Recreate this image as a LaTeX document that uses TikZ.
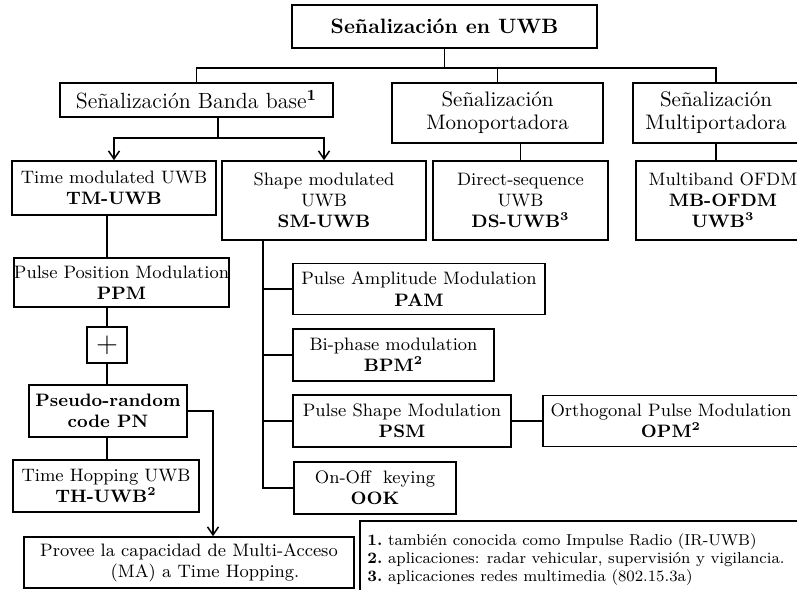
\documentclass[tikz,border=0pt]{standalone}
\usetikzlibrary{arrows.meta}
\newcommand{\nota}[1]{\textsuperscript{\textbf{#1}}}
\begin{document}
\begin{tikzpicture}[x=0.5pt,y=-0.5pt,
                    box/.style={draw,line width=0.8pt,inner sep=0pt,align=center,
                                font=\fontsize{9}{10.6}\selectfont},
                    topbox/.style={box,font=\fontsize{10.5}{11.5}\selectfont},
                    link/.style={line width=0.75pt},
                    arr/.style={line width=0.75pt,-{Straight Barb[length=4pt,width=5.5pt]}}]
                    \useasboundingbox (0,0) rectangle (797,589);
                    \clip (0,0) rectangle (797,589);
                    \node[box,font=\fontsize{10.4}{12}\selectfont\bfseries,
                          minimum width=152.5pt,minimum height=21.5pt] (senal) at (444.5,26.5) {Señalización en UWB};
                    \node[topbox,font=\fontsize{11}{12}\selectfont,
                          minimum width=136.5pt,minimum height=17pt] (banda) at (196.5,100) {Señalización Banda base\nota{1}};
                    \node[topbox,minimum width=105.5pt,minimum height=30pt] (mono) at (497.5,113) {Señalización\\Monoportadora};
                    \node[topbox,minimum width=83pt,minimum height=30pt] (multi) at (716,113) {Señalización\\Multiportadora};
                    \node[box,minimum width=102pt,minimum height=27pt] (tm) at (114,188) {Time modulated UWB\\\textbf{TM-UWB}};
                    \node[box,minimum width=102pt,minimum height=39.5pt] (sm) at (324,200.5) {Shape modulated\\UWB\\\textbf{SM-UWB}};
                    \node[box,minimum width=87.5pt,minimum height=39.5pt] (ds) at (520.5,200.5) {Direct-sequence\\UWB\\\textbf{DS-UWB\nota{3}}};
                    \node[box,minimum width=87pt,minimum height=39.5pt] (mb) at (723,200.5) {Multiband OFDM\\\textbf{MB-OFDM}\\\textbf{UWB\nota{3}}};
                    \node[box,minimum width=107.5pt,minimum height=24.5pt] (ppm) at (121.5,282.5) {Pulse Position Modulation\\\textbf{PPM}};
                    \node[box,font=\fontsize{14}{14}\selectfont,
                          minimum width=20pt,minimum height=18pt] (suma) at (107,345) {$+$};
                    \node[box,minimum width=79pt,minimum height=26pt] (pn) at (108,411) {\textbf{Pseudo-random}\\\textbf{code PN}};
                    \node[box,minimum width=93pt,minimum height=26pt] (th) at (106,486) {Time Hopping UWB\\\textbf{TH-UWB\nota{2}}};
                    \node[box,minimum width=165pt,minimum height=25.5pt] (provee) at (189,562.5) {Provee la capacidad de Multi-Acceso\\\hspace*{16pt}(MA) a Time Hopping.};
                    \node[box,minimum width=126pt,minimum height=25.5pt] (pam) at (419,289) {Pulse Amplitude Modulation\\\textbf{PAM}};
                    \node[box,minimum width=100.5pt,minimum height=26pt] (bpm) at (393.5,355) {Bi-phase modulation\\\textbf{BPM\nota{2}}};
                    \node[box,minimum width=109pt,minimum height=26pt] (psm) at (402,421) {Pulse Shape Modulation\\\textbf{PSM}};
                    \node[box,minimum width=128pt,minimum height=25.5pt] (opm) at (671,421) {Orthogonal Pulse Modulation\\\textbf{OPM\nota{2}}};
                    \node[box,minimum width=81pt,minimum height=26pt] (ook) at (375,488) {On-Off\ \ keying\\\textbf{OOK}};
                    \draw[line width=0.8pt] (360,600) -- (360,521) -- (810,521);
                    \node[anchor=north west,inner sep=0pt,align=left,font=\fontsize{7.9}{9}\selectfont] (notas) at (367,533)
                        {\textbf{1.}\ también conocida como Impulse Radio (IR-UWB)\\
                         \textbf{2.}\ aplicaciones: radar vehicular, supervisión y vigilancia.\\
                         \textbf{3.}\ aplicaciones redes multimedia (802.15.3a)};
                    \coordinate (bus) at (0,68);
                    \draw[link] (senal.south) -- (senal.south |- bus);
                    \draw[link] (banda.north) |- (bus -| multi.north) -- (multi.north);
                    \draw[link] (mono.north |- bus) -- (mono.north);
                    \coordinate (horq) at (218,138);
                    \draw[link,line width=1pt] (banda.south -| horq) -- (horq);
                    \draw[arr] (horq) -| (tm.north);
                    \draw[arr] (horq) -| (sm.north);
                    \draw[link] (mono.south -| ds.north) -- (ds.north);
                    \draw[link] (multi.south) -- (multi.south |- mb.north);
                    \draw[link] (tm.south -| suma) -- (ppm.north -| suma);
                    \draw[link] (ppm.south -| suma) -- (suma.north);
                    \draw[link] (suma.south) -- (pn.north -| suma);
                    \draw[link] (pn.south -| suma) -- (th.north -| suma);
                    \coordinate (bajada) at (213,0);
                    \draw[arr] (pn.east) -| (provee.north -| bajada);
                    \coordinate (tronco) at (263,0);
                    \draw[link] (sm.south -| tronco) |- (ook.west);
                    \foreach \n in {pam,bpm,psm}
                        \draw[link] (tronco |- \n.west) -- (\n.west);
                    \draw[link] (psm.east) -- (opm.west);
                \end{tikzpicture}
\end{document}
